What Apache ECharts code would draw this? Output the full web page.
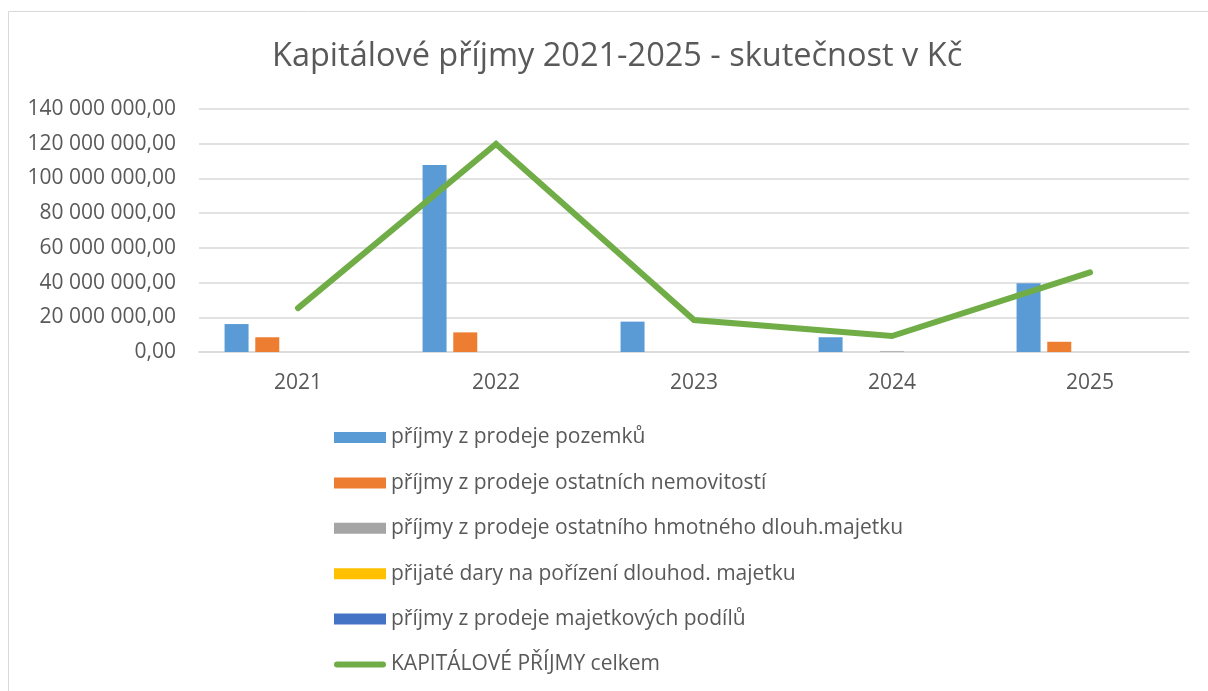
<!DOCTYPE html>
<html>
<head>
<meta charset="utf-8">
<script src="https://cdn.jsdelivr.net/npm/echarts@6/dist/echarts.min.js"></script>
<style>
  html, body { margin: 0; padding: 0; background: #fff; }
  #chart { width: 1208px; height: 691px; }
</style>
</head>
<body>
<div id="chart"></div>
<script type="text/javascript">
    var years = ['2021', '2022', '2023', '2024', '2025'];
    var pozemky = [16100000, 107700000, 17500000, 8500000, 39600000];
    var nemovitosti = [8500000, 11300000, 0, 0, 5900000];
    var hmotnyMajetek = [0, 0, 0, 400000, 0];
    var dary = [0, 0, 0, 0, 0];
    var podily = [0, 0, 0, 0, 0];
    var celkem = [25300000, 119800000, 18400000, 9200000, 45900000];

    var seriesNames = [
        'příjmy z prodeje pozemků',
        'příjmy z prodeje ostatních nemovitostí',
        'příjmy z prodeje ostatního hmotného dlouh.majetku',
        'přijaté dary na pořízení dlouhod. majetku',
        'příjmy z prodeje majetkových podílů',
        'KAPITÁLOVÉ PŘÍJMY celkem'
    ];
    var colors = ['#5B9BD5', '#ED7D31', '#A5A5A5', '#FFC000', '#4472C4', '#70AD47'];
    var font = '"Open Sans", "Noto Sans", sans-serif';

    // 140000000 -> "140 000 000,00"
    function fmt(v) {
        var s = Math.round(v).toString().replace(/\B(?=(\d{3})+(?!\d))/g, ' ');
        return s + ',00';
    }

    var dom = document.getElementById('chart');
    var myChart = echarts.init(dom);

    function bar(i, data) {
        return {
            name: seriesNames[i],
            type: 'bar',
            data: data,
            barWidth: 24,
            barGap: '28%',
            itemStyle: { color: colors[i] }
        };
    }

    var option = {
        backgroundColor: '#fff',
        animation: false,
        color: colors,
        title: {
            text: 'Kapitálové příjmy 2021-2025 - skutečnost v Kč',
            left: 267,
            top: 35,
            textStyle: { color: '#595959', fontFamily: font, fontSize: 32.5, fontWeight: 'normal' }
        },
        graphic: [{
            type: 'rect',
            shape: { x: 8.5, y: 11.5, width: 1210, height: 700 },
            style: { fill: 'none', stroke: '#d9d9d9', lineWidth: 1 },
            silent: true
        }],
        legend: {
            orient: 'vertical',
            left: 334,
            top: 427,
            padding: 0,
            itemWidth: 52,
            itemHeight: 11,
            itemGap: 24.4,
            textStyle: { color: '#595959', fontFamily: font, fontSize: 21 },
            data: seriesNames.slice(0, 5).map(function (n) { return { name: n, icon: 'rect' }; })
                .concat([{
                    name: seriesNames[5],
                    icon: 'path://M3,0 H49 A3,3 0 0 1 49,6 H3 A3,3 0 0 1 3,0 Z'
                }])
        },
        grid: { left: 199, right: 19, top: 109, height: 243, containLabel: false },
        xAxis: {
            type: 'category',
            data: years,
            axisLine: { lineStyle: { color: '#d9d9d9', width: 1.5 } },
            axisTick: { show: false },
            axisLabel: { color: '#595959', fontFamily: font, fontSize: 21, margin: 21 }
        },
        yAxis: {
            type: 'value',
            min: 0,
            max: 140000000,
            interval: 20000000,
            axisLine: { show: false },
            axisTick: { show: false },
            splitLine: { lineStyle: { color: '#d9d9d9', width: 1.5 } },
            axisLabel: { color: '#595959', fontFamily: font, fontSize: 21, margin: 23, formatter: fmt }
        },
        series: [
            bar(0, pozemky),
            bar(1, nemovitosti),
            bar(2, hmotnyMajetek),
            bar(3, dary),
            bar(4, podily),
            {
                name: seriesNames[5],
                type: 'line',
                data: celkem,
                symbol: 'none',
                lineStyle: { color: colors[5], width: 6, cap: 'round', join: 'miter' },
                itemStyle: { color: colors[5] }
            }
        ]
    };

    if (option && typeof option === 'object') {
        myChart.setOption(option, true);
    }
</script>
</body>
</html>
